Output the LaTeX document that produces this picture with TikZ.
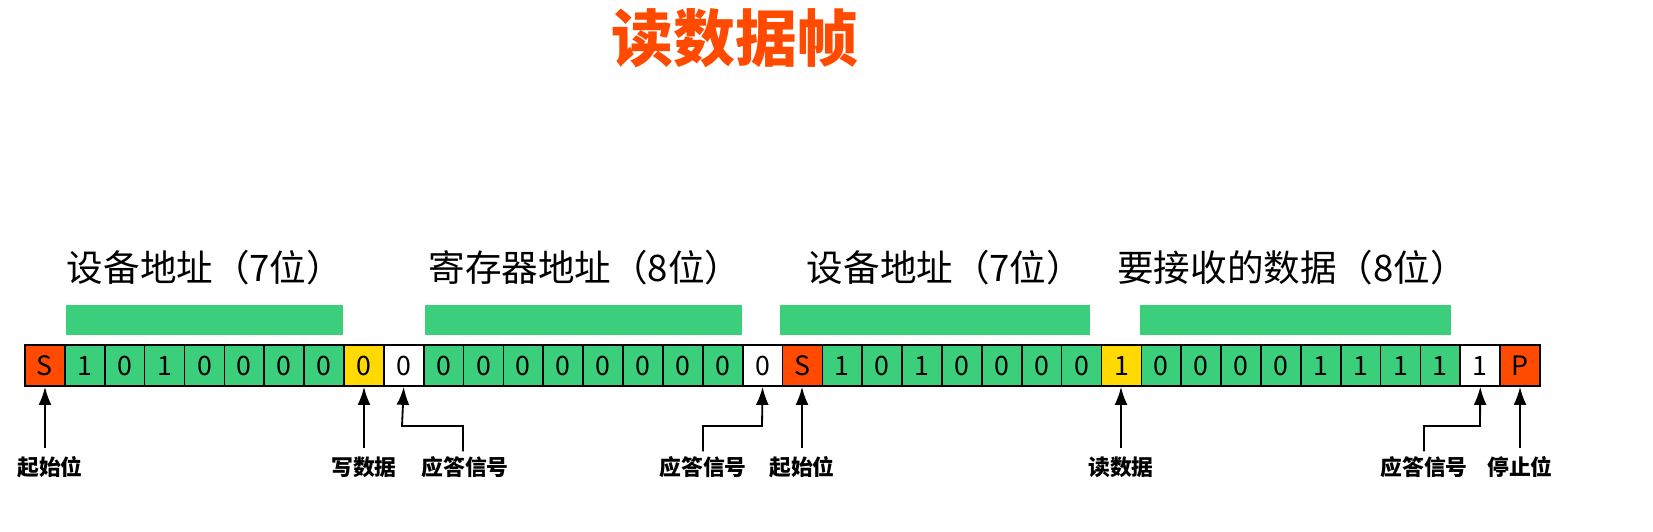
\documentclass[tikz,border=0pt]{standalone}
\usepackage{fontspec}
\setmainfont{Noto Sans CJK SC}
\usetikzlibrary{positioning,calc,arrows.meta}
\definecolor{redbit}{HTML}{FF4A00}
\definecolor{greenbit}{HTML}{3BCF7C}
\definecolor{yellowbit}{HTML}{FFD900}
\begin{document}
\begin{tikzpicture}
	[   x=0.025cm,y=-0.025cm,
		cell/.style={draw=black,line width=1.2pt,fill=#1,minimum width=39.87*0.025cm,minimum height=41*0.025cm,inner sep=0pt,font=\fontsize{19}{19}\selectfont},
		bar/.style={fill=greenbit,draw=none},
		fieldlabel/.style={font=\fontsize{26}{26}\selectfont},
		tag/.style={font=\fontsize{15.5}{15.5}\selectfont\bfseries},
	]
	\tikzset{normal arrow/.style={draw,line width=1.3pt,-{Latex[length=4.5mm,width=3.2mm]}}}
	\useasboundingbox (0,0) rectangle (1653,532);
	\node[text=redbit,font=\fontsize{44}{44}\selectfont\bfseries] (title) at (735,38) {读数据帧};
	
	% bit cells
	\foreach \b/\c [count=\i from 0] in {S/redbit,1/greenbit,0/greenbit,1/greenbit,0/greenbit,0/greenbit,0/greenbit,0/greenbit,0/yellowbit,0/white,
		0/greenbit,0/greenbit,0/greenbit,0/greenbit,0/greenbit,0/greenbit,0/greenbit,0/greenbit,0/white,
		S/redbit,1/greenbit,0/greenbit,1/greenbit,0/greenbit,0/greenbit,0/greenbit,0/greenbit,1/yellowbit,
		0/greenbit,0/greenbit,0/greenbit,0/greenbit,1/greenbit,1/greenbit,1/greenbit,1/greenbit,1/white,P/redbit}
	{
		\node[cell=\c] (c-\i) at ({25+39.87*(\i+0.5)},365.5) {\b};
	}
	
	% field bars and labels
	\fill[bar] (66,305) rectangle (343,335);
	\fill[bar] (425,305) rectangle (742,335);
	\fill[bar] (780,305) rectangle (1090,335);
	\fill[bar] (1140,305) rectangle (1451,335);
	\node[fieldlabel] (f-1) at (205,268) {设备地址（7位）};
	\node[fieldlabel] (f-2) at (585,268) {寄存器地址（8位）};
	\node[fieldlabel] (f-3) at (945,268) {设备地址（7位）};
	\node[fieldlabel] (f-4) at (1292,268) {要接收的数据（8位）};
	
	% straight markers
	\node[tag] (t-0) at (50,467) {起始位};
	\node[tag] (t-8) at (364,467) {写数据};
	\node[tag] (t-19) at (802,467) {起始位};
	\node[tag] (t-27) at (1121,467) {读数据};
	\node[tag] (t-37) at (1520,467) {停止位};
	\foreach \i/\x in {0/45,8/364,19/802,27/1121,37/1520}
		\path[normal arrow] (\x,448) -- (c-\i.south -| \x,0);
	
	% bent markers
	\node[tag] (t-9) at (465,467) {应答信号};
	\node[tag] (t-18) at (703,467) {应答信号};
	\node[tag] (t-36) at (1424,467) {应答信号};
	\path[normal arrow] (t-9.north -| 463,0) |- (402,426) -- (c-9.south);
	\path[normal arrow] (t-18.north) |- (762,426) -- (c-18.south);
	\path[normal arrow] (t-36.north) |- (1480,426) -- (c-36.south);
\end{tikzpicture}
\end{document}
